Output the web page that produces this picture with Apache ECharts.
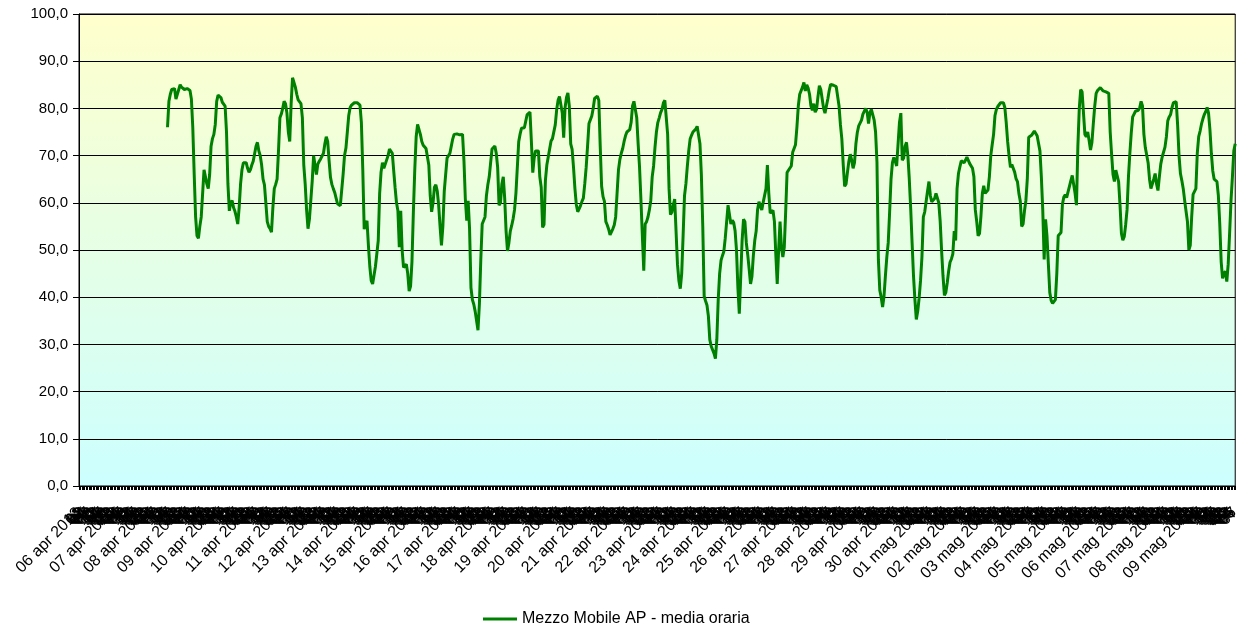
<!DOCTYPE html>
<html>
<head>
<meta charset="utf-8">
<script src="https://cdn.jsdelivr.net/npm/echarts@6/dist/echarts.min.js"></script>
<style>
html,body{margin:0;padding:0;background:#fff;}
#chart{width:1243px;height:629px;}
</style>
</head>
<body>
<div id="chart"></div>
<script>
// ---- data (hourly means) ----
const seriesName = 'Mezzo Mobile AP - media oraria';
const startYear = 2013, startMonth = 3, startDay = 6;   // 06 apr 2013 00:00
const hourCount = 824;                                  // hourly categories on the axis
const labelledDays = 34;                                // day labels drawn (06 apr .. 09 mag)
const monthNames = ['gen','feb','mar','apr','mag','giu','lug','ago','set','ott','nov','dic'];
const firstDataHour = 63;                               // first hour with a value
const values = [
  76.0,81.5,83,84,84.4,84.2,82,82,84,85,84.5,84.2,84,84.2,84.2,84,83.8,
  82,75.9,66,57,53,52.5,55,57,62,67,65.5,64,63,66,72,73.6,74.5,76.6,81.5,82.8,
  82.8,82.3,81.3,81.4,80.5,75,64,58.3,60,60.5,59,58.2,57,55.5,59,64,67,68.5,68.8,68.5,
  67.3,66.5,67,68,68.8,69.2,72,72.8,71,70,68,65,63.8,60,56,55,54.5,53.8,59,63,
  63.9,65,71,78,78.8,80,81.5,81,79,75,73,81,86.5,86.5,84.5,83,81.8,81.4,81,78,
  68,64,58.5,54.5,56.5,60.5,64.6,70,70,66,68.2,68.8,69.3,69.7,70.5,72.5,74,73,69,65.4,
  63.9,63,62.2,61,59.8,59.5,59.4,59.8,66,70,71.6,75,78.5,80.2,80.7,81,81.2,81.4,81.2,81,
  80.7,77,67,54.4,55.5,56.2,51,46.5,43.5,42.8,43,46.5,49.2,52,62,66.5,68.5,67.3,68.2,68.5,
  70,71.4,71.6,70.5,66.8,63.2,60,58.3,50.6,58.3,50,46.3,46,47,45,41.3,42.3,47.5,58,67,
  74,76.6,76.6,74.5,73,72.2,71.8,71.5,71.3,68,61.5,58.1,60,63.3,63.8,62.5,59.5,55,51,55,
  62.5,66,69.5,69.2,70.5,72,73.5,74.5,74.8,74.6,74.3,74.4,74.8,74.5,69,60.8,56.2,60.4,54.5,42,
  39.5,38.5,37,35,33,38.5,48,55.5,55.7,57,61.5,63.8,65.5,68.5,71.4,71.7,72,70.5,67.5,59.5,
  60,64,65.5,61,54,49.8,51.5,54,55.2,56.6,58.5,62,67.5,73,74.6,75.8,75.7,75.9,77.3,78.7,
  79,79.2,73,66.4,69.5,71,71.2,71,65.5,63.3,54.8,55.4,64.8,68,69.7,71.4,73.1,73.6,73.8,76.5,
  79.7,81.7,82.5,82.5,79,73.8,80.2,82.3,83.3,80.5,72.5,71.3,67.5,63,59.6,58.1,58.7,59.4,60.3,61,
  64,67.5,72,76.8,77.6,78.4,80,82.1,82.4,82.6,81.7,72,63.5,61.3,60.3,56,55.3,54.4,53.2,53.4,
  54.5,55.3,57,62,67,69.2,70.5,71.5,73,74.2,75,75.1,75.5,77,80.5,81.5,81.2,78,72.5,67.5,
  60.5,53,45.6,55.5,56,57,58.5,60.5,65.5,67.8,71.8,75,77,78,79.1,79.8,81.2,81.7,81.3,74.5,
  63,57.5,58,59.5,60.8,60.5,47,43.5,41.8,45,53,61.5,64,67.7,71,73.5,74.3,75,75.1,75.6,
  76.2,76,72.5,66,55,40.2,39.2,38.3,36,31,29.6,29.3,28.1,27,31,39.5,45,47.8,48.8,49.7,
  52.5,56,59.5,59.3,55.5,56.3,55.8,54.1,50,42,36.5,44.2,52,56.5,56,51.5,49,46,42.8,44.4,
  48.8,52,54,58.5,60.2,59.8,58.5,60.1,60.3,63,68,62,57.8,58.2,58.4,56,49,42.8,50,56,
  50.6,48.5,50.5,58,66.4,66.9,66.8,67.8,70.7,71.5,72.3,76,80.5,83,83.1,84.5,85.5,83.7,85,84.3,
  83,80.5,79.6,81,79.2,79.8,82.5,84.8,84,82,80,79,80.5,82,83.8,85.1,85,84.9,84.8,84.6,
  84.4,80.5,76.5,73.5,68,63.5,64,66.5,68.8,70.3,69,67.3,68.5,72.5,74.9,76.3,76.7,77.5,78.8,79.4,
  80,79.2,76.8,79.1,79.8,79.6,77.5,75,68.5,48,41.5,40,37.9,40.2,44.5,48.5,51.5,58,65,68.5,
  69.6,68.8,67.8,68.2,77,79,69,69.5,72,72.8,70,65,58.8,51.5,44.5,39.5,35.3,37,39.8,43.5,
  48.5,57,58.1,58.5,62.5,64.5,61.5,60.2,60,60.9,62,62.4,60,56,49.8,44.5,40.4,41,43,45.5,
  47.4,48.1,49.2,54,52,63,66.2,67.6,68.9,69.3,68.5,69,69.7,69.5,68.3,68,67.3,65.5,58.5,56,
  53,53.5,57.2,62,63.6,62,62,62.7,65.5,70,72.3,74.5,78.5,79.8,80.4,80.8,81.2,81.4,81.2,80.2,
  77,73,70,67.5,68.1,68.4,66.5,65.1,64.5,62,60.4,55,55.5,58.3,60.5,65,73.9,74.2,74.3,74.7,
  75.2,74.8,74.2,74.2,71,65.5,58.5,48,56.5,53,47,41,39.3,38.7,38.8,39.5,45,53,53.4,53.7,
  59.7,61.2,61.7,61.1,62.3,63.5,64.7,65.8,65.6,62,59.5,72,80,84,83.5,79,74.5,74,75,73.2,
  71.2,72.8,76.8,80.5,83.2,83.8,84.2,84.4,84.1,83.7,83.5,83.5,83.9,83.2,75,70.3,66,64.5,66.9,67.3,
  64.5,59.5,53.5,52.1,52.8,55.3,58.5,65.5,70.5,74.8,78.2,78.8,79.4,79.5,79.6,80.1,81.5,80.5,74.5,71.7,
  72,68.5,65,63,63.3,65,66.2,64,62.6,65.5,68.2,69.7,69.9,71.8,74,77.4,78.2,78.7,80.2,81.2,
  81.3,81.4,76.5,70,66.2,64.7,63,60.5,58.2,56,50,51,57,61.8,61.8,63,70.5,74,75.2,76.7,
  77.8,78.7,79.3,80.2,79,75.5,70.5,66.8,65,65.3,64.5,61.5,55.5,47.5,44,45,45.5,43.3,47,53.5,
  60.5,65.5,71,72.5
];
const yMin = 0, yMax = 100, yStep = 10;

// ---- categories (one per hour) ----
function pad(n){ return (n < 10 ? '0' : '') + n; }
const categories = [];
for (let h = 0; h < hourCount; h++) {
  const d = new Date(Date.UTC(startYear, startMonth, startDay) + h * 3600000);
  const hr = d.getUTCHours();
  if (hr === 0 && h / 24 < labelledDays) {
    categories.push(pad(d.getUTCDate()) + ' ' + monthNames[d.getUTCMonth()] + ' ' + d.getUTCFullYear());
  } else {
    categories.push(pad(hr));
  }
}
const seriesData = new Array(firstDataHour).fill(null).concat(values);

const FONT = "'Liberation Sans', Arial, sans-serif";
const chart = echarts.init(document.getElementById('chart'), null, {renderer: 'canvas'});
chart.setOption({
  animation: false,
  backgroundColor: '#ffffff',
  grid: {
    left: 79, right: 2, top: 14, bottom: 143,
    show: true,
    borderColor: '#000', borderWidth: 1,
    backgroundColor: {
      type: 'linear', x: 0, y: 0, x2: 0, y2: 1,
      colorStops: [{offset: 0, color: '#FFFFCC'}, {offset: 1, color: '#CCFFFF'}]
    }
  },
  legend: {
    left: 483, top: 611, padding: 0,
    itemWidth: 34, itemHeight: 3, itemGap: 10,
    icon: 'rect',
    textStyle: {fontFamily: FONT, fontSize: 16, color: '#000'},
    data: [seriesName]
  },
  xAxis: {
    type: 'category',
    data: categories,
    boundaryGap: false,
    axisLine: {lineStyle: {color: '#000', width: 1}},
    axisTick: {show: true, interval: 0, length: 4, lineStyle: {color: '#000'}},
    axisLabel: {
      interval: 0, rotate: 45, margin: 24,
      fontFamily: FONT, fontSize: 16, color: '#000'
    },
    splitLine: {show: false}
  },
  yAxis: {
    type: 'value',
    min: yMin, max: yMax, interval: yStep,
    axisLine: {show: true, lineStyle: {color: '#000', width: 1}},
    axisTick: {show: true, length: 6, lineStyle: {color: '#000'}},
    axisLabel: {
      margin: 11, fontFamily: FONT, fontSize: 15, color: '#000',
      formatter: v => v.toFixed(1).replace('.', ',')
    },
    splitLine: {show: true, lineStyle: {color: '#000', width: 1}}
  },
  series: [{
    name: seriesName,
    type: 'line',
    data: seriesData,
    showSymbol: false,
    symbol: 'none',
    connectNulls: false,
    lineStyle: {color: '#008000', width: 3},
    itemStyle: {color: '#008000'}
  }]
});
</script>
</body>
</html>
